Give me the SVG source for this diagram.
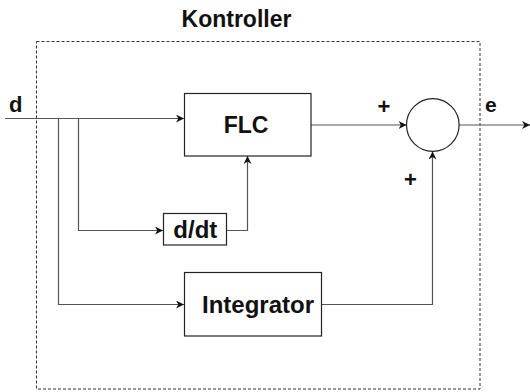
<svg xmlns="http://www.w3.org/2000/svg" width="530" height="392" viewBox="0 0 530 392">
<style>
.box{fill:#fff;stroke:#222;stroke-width:1.2}
.ln{fill:none;stroke:#555;stroke-width:1.2}
.t{font-family:"Liberation Sans",Arial,sans-serif;font-weight:bold;fill:#111}
</style>
<defs>
<marker id="ah" viewBox="0 0 10 10" refX="10" refY="5" markerWidth="8" markerHeight="8" markerUnits="userSpaceOnUse" orient="auto">
<path d="M0,0 L10,5 L0,10 L3,5 Z" fill="#111"/>
</marker>
</defs>
<rect width="530" height="392" fill="#fff"/>
<g id="kontroller">
<rect x="36.5" y="41.5" width="443.5" height="347.5" fill="none" stroke="#333" stroke-width="1" stroke-dasharray="3,2"/>
<text class="t" x="236.5" y="27.3" font-size="23" text-anchor="middle">Kontroller</text>
</g>
<g id="connectors">
<path class="ln" d="M5,118.5 H184" marker-end="url(#ah)"/>
<path class="ln" d="M58.5,118.5 V304.5 H184" marker-end="url(#ah)"/>
<path class="ln" d="M78.5,118.5 V230.5 H163" marker-end="url(#ah)"/>
<path class="ln" d="M227,230.5 H247.5 V156" marker-end="url(#ah)"/>
<path class="ln" d="M311,125 H406.5" marker-end="url(#ah)"/>
<path class="ln" d="M322,304.5 H432.5 V151.5" marker-end="url(#ah)"/>
<path class="ln" d="M459,125 H530" marker-end="url(#ah)"/>
</g>
<g id="label-d"><text class="t" x="9" y="111.7" font-size="22">d</text></g>
<g id="label-e"><text class="t" x="485" y="111.7" font-size="21">e</text></g>
<g id="FLC">
<rect class="box" x="184.5" y="93.5" width="126.5" height="62.5"/>
<text class="t" x="246" y="132.7" font-size="23" text-anchor="middle">FLC</text>
</g>
<g id="ddt">
<rect class="box" x="163.5" y="213.5" width="63" height="31.5"/>
<text class="t" x="195.3" y="238.3" font-size="24" text-anchor="middle">d/dt</text>
</g>
<g id="Integrator">
<rect class="box" x="184.5" y="272.5" width="137" height="63.5"/>
<text class="t" x="258" y="313.3" font-size="24" text-anchor="middle">Integrator</text>
</g>
<g id="sum">
<circle cx="432.8" cy="125" r="26.3" fill="#fff" stroke="#222" stroke-width="1.2"/>
<text class="t" x="384" y="113.5" font-size="22" text-anchor="middle">+</text>
<text class="t" x="410.5" y="186.7" font-size="22" text-anchor="middle">+</text>
</g>
</svg>
